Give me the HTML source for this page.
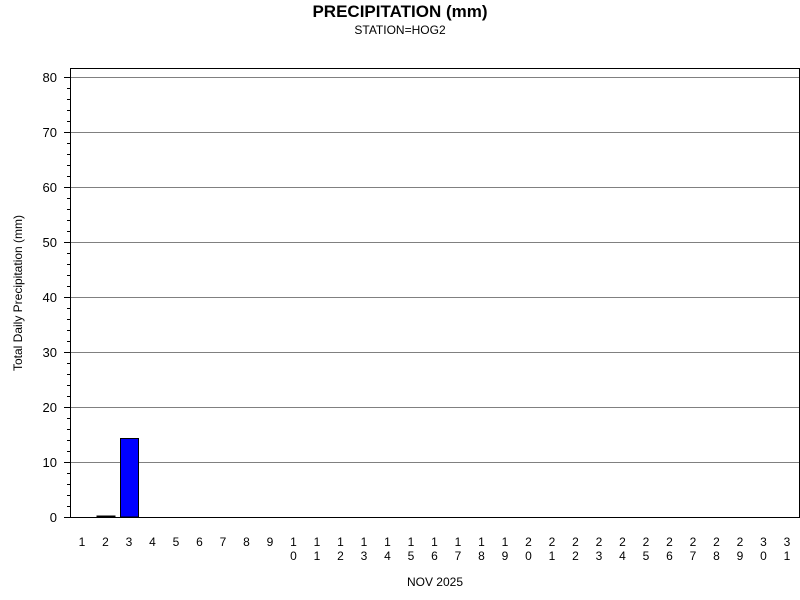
<!DOCTYPE html>
<html><head><meta charset="utf-8"><style>
body{margin:0;background:#fff;}
svg{display:block;font-family:"Liberation Sans",sans-serif;}
</style></head><body>
<svg id="s" width="800" height="600" xmlns="http://www.w3.org/2000/svg">
<rect width="800" height="600" fill="#fff"/>
<text x="400" y="17" text-anchor="middle" font-size="17" font-weight="bold">PRECIPITATION (mm)</text>
<text x="400" y="34" text-anchor="middle" font-size="12">STATION=HOG2</text>
<text x="22" y="293" text-anchor="middle" font-size="12" transform="rotate(-90 22 293)">Total Daily Precipitation (mm)</text>
<text x="435" y="586" text-anchor="middle" font-size="12">NOV 2025</text>
<g id="g"></g>
<rect x="97" y="516" width="18" height="1" fill="#000" stroke="#000" stroke-width="1"/>
<rect x="120.5" y="438.5" width="18" height="78.5" fill="#00f" stroke="#000" stroke-width="1"/>
<rect x="70.5" y="68.5" width="729" height="449" fill="none" stroke="#000" stroke-width="1"/>
</svg>
<script>
var g=document.getElementById('g'),h='';
for(var v=0;v<=80;v+=2){var y=517-v*5.5+0.5;
 if(v%10==0){h+='<line x1="64" y1="'+y+'" x2="70" y2="'+y+'" stroke="#000"/>';
  if(v>0)h+='<line x1="70" y1="'+y+'" x2="799" y2="'+y+'" stroke="#808080"/>';
  h+='<text x="57" y="'+(y+4.5)+'" text-anchor="end" font-size="13">'+v+'</text>';}
 else h+='<line x1="67" y1="'+y+'" x2="70" y2="'+y+'" stroke="#000"/>';}
for(var d=1;d<=31;d++){var x=82+(d-1)*23.5,s=String(d);
 if(s.length==1)h+='<text x="'+x+'" y="546" text-anchor="middle" font-size="12">'+s+'</text>';
 else{h+='<text x="'+x+'" y="546" text-anchor="middle" font-size="12">'+s[0]+'</text>';
  h+='<text x="'+x+'" y="560" text-anchor="middle" font-size="12">'+s[1]+'</text>';}}
g.innerHTML=h;
</script>
</body></html>
